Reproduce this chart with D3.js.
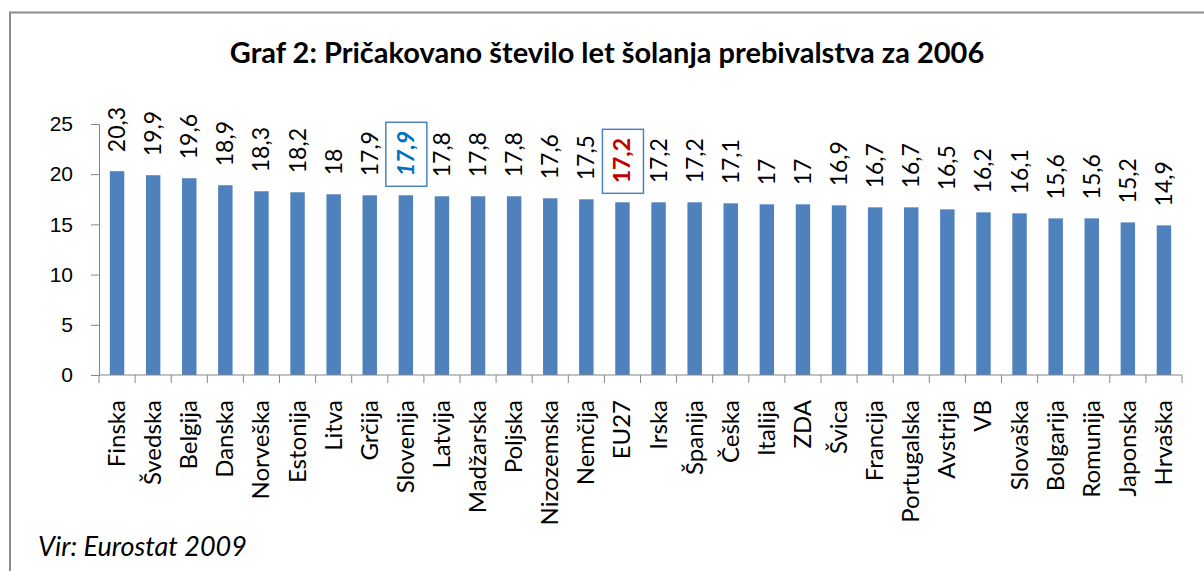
<!DOCTYPE html>
<html>
<head>
<meta charset="utf-8">
<script src="https://cdn.jsdelivr.net/npm/d3@7"></script>
<style>
  body { margin: 0; background: #fff; }
  svg { display: block; font-family: Lato, 'Open Sans', sans-serif; }
</style>
</head>
<body>
<svg id="chart"></svg>
<script>
// data
const countries = ['Finska', 'Švedska', 'Belgija', 'Danska', 'Norveška', 'Estonija', 'Litva', 'Grčija',
  'Slovenija', 'Latvija', 'Madžarska', 'Poljska', 'Nizozemska', 'Nemčija', 'EU27', 'Irska', 'Španija',
  'Češka', 'Italija', 'ZDA', 'Švica', 'Francija', 'Portugalska', 'Avstrija', 'VB', 'Slovaška',
  'Bolgarija', 'Romunija', 'Japonska', 'Hrvaška'];
const years = [20.3, 19.9, 19.6, 18.9, 18.3, 18.2, 18, 17.9, 17.9, 17.8, 17.8, 17.8, 17.6, 17.5, 17.2,
  17.2, 17.2, 17.1, 17, 17, 16.9, 16.7, 16.7, 16.5, 16.2, 16.1, 15.6, 15.6, 15.2, 14.9];
const yTicks = [0, 5, 10, 15, 20, 25];
const highlight = { Slovenija: { color: '#0070c0', italic: true }, EU27: { color: '#c00000', italic: false } };

const width = 1204;
const height = 571;
const marginLeft = 99;
const marginRight = 22;
const marginTop = 124;
const marginBottom = 196;

const data = countries.map((c, i) => ({ country: c, value: years[i] }));
const fmt = (v) => String(v).replace('.', ',');

const x = d3.scaleBand()
  .domain(countries)
  .range([marginLeft, width - marginRight])
  .paddingInner(0.6)
  .paddingOuter(0.3);

const y = d3.scaleLinear()
  .domain([0, 25])
  .range([height - marginBottom, marginTop]);

const svg = d3.select('#chart')
  .attr('width', width)
  .attr('height', height)
  .attr('viewBox', [0, 0, width, height]);

// outer frame (left + top visible)
svg.append('path')
  .attr('d', `M10,${height}V12.5H${width}`)
  .attr('fill', 'none')
  .attr('stroke', '#8c8c8c')
  .attr('stroke-width', 2);

// title
svg.append('text')
  .attr('x', 607)
  .attr('y', 63)
  .attr('text-anchor', 'middle')
  .attr('font-size', 29)
  .attr('font-weight', 'bold')
  .attr('fill', '#000')
  .text('Graf 2: Pričakovano število let šolanja prebivalstva za 2006');

// bars
svg.append('g')
  .attr('fill', '#4f81bd')
  .selectAll()
  .data(data)
  .join('rect')
  .attr('x', (d) => x(d.country))
  .attr('y', (d) => y(d.value))
  .attr('width', x.bandwidth())
  .attr('height', (d) => y(0) - y(d.value));

// y axis
const gy = svg.append('g')
  .attr('transform', `translate(${marginLeft},0)`)
  .call(d3.axisLeft(y).tickValues(yTicks).tickSize(8).tickPadding(18));
gy.selectAll('.domain, .tick line').attr('stroke', '#868686');
gy.selectAll('.tick text').attr('font-size', 21).attr('fill', '#000').attr('font-family', 'inherit');

// x axis: ticks between categories
const step = x.step();
const xStart = x.range()[0];
const boundaries = d3.range(countries.length + 1).map((i) => xStart + i * step);
const gx = svg.append('g')
  .attr('transform', `translate(0,${y(0)})`);
gx.append('path')
  .attr('d', `M${marginLeft},0H${boundaries[boundaries.length - 1]}`)
  .attr('stroke', '#868686')
  .attr('fill', 'none');
gx.selectAll('line')
  .data(boundaries)
  .join('line')
  .attr('x1', (d) => d)
  .attr('x2', (d) => d)
  .attr('y1', 0)
  .attr('y2', 8)
  .attr('stroke', '#868686');
gx.selectAll('text')
  .data(countries)
  .join('text')
  .attr('transform', (d) => `translate(${x(d) + x.bandwidth() / 2 + 8},25) rotate(-90)`)
  .attr('text-anchor', 'end')
  .attr('font-size', 24)
  .attr('fill', '#000')
  .text((d) => d);

// value labels
const labels = svg.append('g')
  .selectAll('g')
  .data(data)
  .join('g')
  .attr('transform', (d) => `translate(${x(d.country) + x.bandwidth() / 2 + 8},${y(d.value) - 19}) rotate(-90)`);

labels.filter((d) => highlight[d.country])
  .append('rect')
  .attr('x', -10)
  .attr('y', -28)
  .attr('width', 64)
  .attr('height', 41)
  .attr('fill', '#fff')
  .attr('stroke', '#4f81bd')
  .attr('stroke-width', 1.5);

labels.append('text')
  .attr('font-size', 23)
  .attr('fill', (d) => highlight[d.country] ? highlight[d.country].color : '#000')
  .attr('font-weight', (d) => highlight[d.country] ? 'bold' : 'normal')
  .attr('font-style', (d) => highlight[d.country] && highlight[d.country].italic ? 'italic' : 'normal')
  .text((d) => fmt(d.value));

// source
svg.append('text')
  .attr('x', 38)
  .attr('y', 556)
  .attr('font-size', 27)
  .attr('font-style', 'italic')
  .attr('fill', '#000')
  .text('Vir: Eurostat 2009');
</script>
</body>
</html>
